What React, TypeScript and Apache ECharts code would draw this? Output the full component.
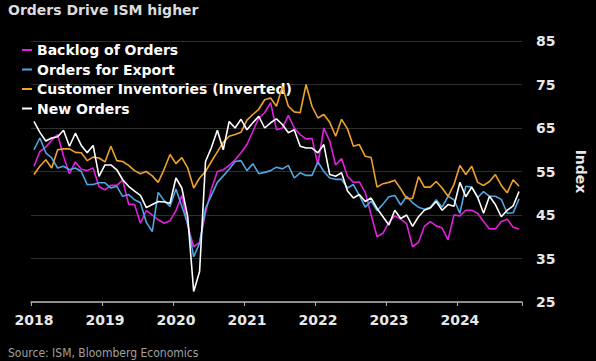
import React, { useEffect, useRef } from "react";
import * as echarts from "echarts";

const years = ["2018", "2019", "2020", "2021", "2022", "2023", "2024"];
const monthsInLast = 11;

const backlog = [
  56.2, 59.6, 60.6, 62.2, 63.5, 58.5, 54.5, 57.2, 55.5, 55.2, 55.8, 51.5,
  50.8, 51.8, 51.8, 53.0, 47.5, 47.4, 43.1, 46.0, 45.0, 43.9, 43.1, 43.7,
  46.0, 49.5, 42.5, 37.7, 38.7, 45.5, 51.0, 55.0, 55.4, 56.4, 57.7, 59.3,
  61.2, 64.2, 67.3, 68.5, 70.8, 64.6, 65.0, 67.9, 65.0, 63.5, 62.5, 62.6,
  56.6, 65.0, 62.0, 56.5, 58.0, 53.9, 52.5, 52.6, 50.2, 45.0, 40.0, 40.8,
  43.3, 44.8, 44.0, 43.0, 37.7, 38.7, 42.4, 43.5, 42.5, 42.0, 39.3, 45.0,
  44.8, 46.1, 46.1, 45.4, 43.5, 41.8, 41.8, 43.5, 44.0, 42.2, 41.8,
];

const exportOrders = [
  60.0, 62.7, 59.3, 58.1, 55.8, 56.2, 55.4, 55.8, 55.0, 52.0, 52.0, 52.4,
  52.4, 51.2, 51.6, 49.3, 49.7, 48.5, 47.8, 43.3, 41.2, 50.2, 48.3, 47.0,
  51.0, 47.0, 43.0, 35.4, 38.5, 46.5, 49.5, 52.5, 54.0, 55.5, 57.3, 57.5,
  55.2, 56.8, 54.5, 54.8, 55.2, 56.0, 55.6, 56.4, 53.5, 54.7, 54.1, 54.1,
  57.2, 55.0, 53.5, 53.2, 53.2, 51.2, 52.0, 49.5, 46.8, 48.2, 46.0, 47.5,
  49.2, 49.5, 47.3, 49.3, 47.8, 46.8, 46.3, 46.8, 48.5, 46.8, 49.3, 48.5,
  45.4, 51.6, 51.4, 49.0, 50.4, 49.3, 49.3, 48.6, 45.4, 45.5, 48.7,
];

const inventoriesInv = [
  54.3, 56.2, 57.7, 55.8, 60.0, 60.2, 60.2, 59.4, 59.3, 57.5, 58.3, 58.1,
  57.2, 60.8, 57.5, 57.3, 56.4, 55.2, 54.5, 55.0, 54.0, 52.5, 55.5, 58.9,
  56.8, 58.2, 55.8, 51.2, 53.5, 55.0, 57.3, 59.5, 61.7, 63.1, 63.5, 64.0,
  66.8, 68.1, 69.3, 71.5, 71.9, 70.0, 74.6, 70.0, 68.7, 68.5, 75.0, 70.0,
  67.3, 68.1, 66.3, 63.1, 67.0, 64.8, 60.8, 61.2, 58.5, 58.2, 51.4, 52.2,
  52.5, 53.0, 51.0, 48.8, 48.8, 53.8, 51.4, 51.4, 52.7, 51.2, 49.3, 52.0,
  56.4, 54.3, 56.2, 52.5, 51.8, 52.7, 54.3, 51.8, 50.1, 53.1, 51.6,
];

const newOrders = [
  66.5, 64.0, 62.0, 62.7, 63.0, 64.5, 60.8, 63.8, 61.0, 59.3, 61.0, 53.9,
  56.5, 56.5, 55.4, 53.1, 51.6, 50.5, 49.5, 46.7, 47.4, 48.1, 48.0, 47.7,
  53.5, 51.2, 44.5, 27.4, 32.0, 57.3, 60.5, 64.5, 60.0, 66.5, 65.0, 67.0,
  64.6, 66.2, 67.7, 65.0, 66.2, 67.1, 65.8, 63.9, 64.6, 60.8, 60.4, 60.4,
  59.3, 61.2, 54.3, 53.9, 54.7, 50.5, 48.9, 49.7, 48.1, 48.9, 46.5, 44.6,
  42.7, 46.1, 44.2, 45.0, 42.4, 44.6, 46.1, 46.6, 48.1, 46.1, 47.4, 47.0,
  52.5, 49.2, 51.4, 49.1, 45.4, 49.3, 47.4, 44.6, 46.1, 47.1, 50.4,
];

const seriesNames = [
  "Backlog of Orders",
  "Orders for Export",
  "Customer Inventories (Inverted)",
  "New Orders",
];
const seriesColors = ["#e020dc", "#4ea6e2", "#eea22c", "#ffffff"];
const yTicks = { min: 25, max: 85, step: 10 };

const categories: string[] = [];
years.forEach((y, yi) => {
  const n = yi === years.length - 1 ? monthsInLast : 12;
  for (let m = 1; m <= n; m++) categories.push(`${y}-${String(m).padStart(2, "0")}`);
});

const FONT = "'DejaVu Sans', Verdana, sans-serif";

export default function App() {
  const ref = useRef<HTMLDivElement>(null);
  useEffect(() => {
    document.body.style.margin = "0";
    document.body.style.background = "#000";
    if (!ref.current) return;
    const chart = echarts.init(ref.current, null, { renderer: "svg" });
    const dataSets = [backlog, exportOrders, inventoriesInv, newOrders];
    chart.setOption({
      animation: false,
      backgroundColor: "#000000",
      title: {
        text: "Orders Drive ISM higher",
        left: 3,
        top: -2,
        textStyle: { color: "#dcdcdc", fontSize: 14, fontWeight: "bold", fontFamily: FONT },
      },
      legend: {
        orient: "vertical",
        left: 22,
        top: 42,
        itemGap: 3.5,
        icon: "rect",
        itemWidth: 10,
        itemHeight: 2,
        padding: 0,
        data: seriesNames,
        textStyle: { color: "#ffffff", fontSize: 14, fontWeight: "bold", fontFamily: FONT, lineHeight: 16 },
      },
      graphic: [
        {
          type: "text",
          left: 8,
          top: 347,
          style: {
            text: "Source: ISM, Bloomberg Economics",
            fill: "#a0a0a0",
            fontSize: 12,
            fontFamily: "'Liberation Sans Narrow', 'DejaVu Sans Condensed', sans-serif",
          },
        },
      ],
      grid: { left: 31, right: 66, top: 41, bottom: 59 },
      xAxis: {
        type: "category",
        data: categories,
        boundaryGap: true,
        axisLine: { lineStyle: { color: "#b4b4b4", width: 1.5 } },
        axisTick: {
          show: true,
          length: 4,
          interval: (i: number) => i % 12 === 0,
          lineStyle: { color: "#b4b4b4" },
        },
        axisLabel: {
          interval: (i: number) => i % 12 === 0,
          formatter: (v: string) => v.slice(0, 4),
          color: "#e8e8e8",
          fontSize: 14,
          fontWeight: "bold",
          fontFamily: FONT,
          margin: 11,
        },
        splitLine: { show: false },
      },
      yAxis: {
        type: "value",
        position: "right",
        min: yTicks.min,
        max: yTicks.max,
        interval: yTicks.step,
        name: "Index",
        nameLocation: "middle",
        nameRotate: -90,
        nameGap: 52,
        nameTextStyle: { color: "#e8e8e8", fontSize: 14, fontWeight: "bold", fontFamily: FONT },
        axisLine: { show: false },
        axisTick: { show: false },
        axisLabel: {
          color: "#e8e8e8",
          fontSize: 14,
          fontWeight: "bold",
          fontFamily: FONT,
          margin: 14,
        },
        splitLine: { lineStyle: { color: "#2e2e2e", width: 1 } },
      },
      series: seriesNames.map((name, i) => ({
        name,
        type: "line",
        data: dataSets[i],
        showSymbol: false,
        symbol: "none",
        color: seriesColors[i],
        lineStyle: { width: 1.6, color: seriesColors[i] },
        z: 2 + i,
      })),
    });
    return () => chart.dispose();
  }, []);
  return (
    <div
      ref={ref}
      style={{ position: "fixed", left: 0, top: 0, width: 596, height: 361, background: "#000" }}
    />
  );
}
